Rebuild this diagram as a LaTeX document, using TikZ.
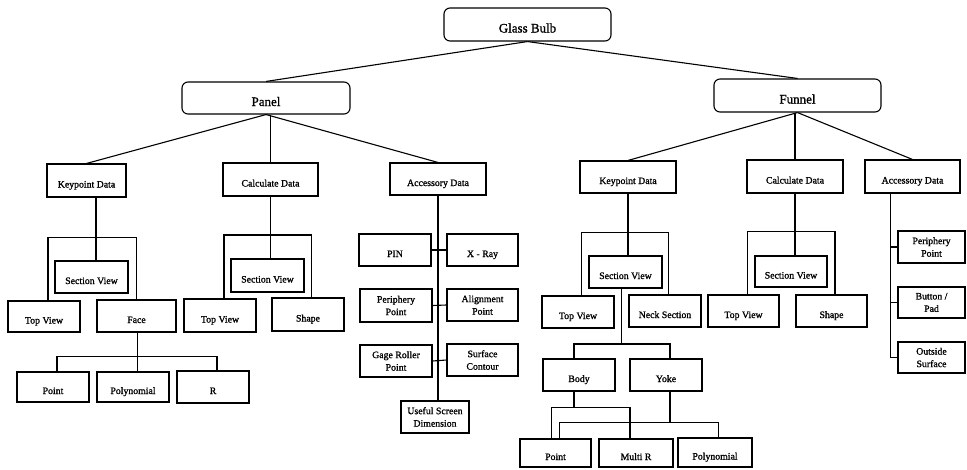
\documentclass[tikz,border=0pt]{standalone}
\usepackage{fontspec}
\setmainfont{Liberation Serif}[FakeBold=1.2]
\tikzset{
  sz/.style 2 args={minimum width=#1pt, minimum height=#2pt},
  box/.style={draw, line width=1.1pt, inner sep=0pt,
    font=\fontsize{9.8}{12}\selectfont, text height=14pt, text depth=0pt},
  box2/.style={draw, line width=1.1pt, inner sep=0pt, align=center,
    font=\fontsize{9.8}{12.5}\selectfont},
  topbox/.style={draw, rounded corners=6pt, line width=1.1pt, inner sep=0pt,
    font=\fontsize{13}{15}\selectfont, text height=16pt, text depth=0pt},
  wire/.style={line width=1.1pt},
}
\begin{document}
\begin{tikzpicture}[x=1pt, y=-1pt]
\useasboundingbox (0,0) rectangle (967,469);

% top levels
\node[topbox, sz={167}{33}] (gb) at (527.5,24.5) {Glass Bulb};
\node[topbox, sz={168}{32}] (panel) at (266,98) {Panel};
\node[topbox, sz={167}{33}] (funnel) at (797.5,95.5) {Funnel};

% panel branch
\node[box, sz={79}{33}] (pkd) at (86.5,180.5) {Keypoint Data};
\node[box, sz={95}{33}] (pcd) at (270.5,179.5) {Calculate Data};
\node[box, sz={96}{32}] (pad) at (438,179) {Accessory Data};
\node[box, sz={73}{32}] (psv) at (91.5,277) {Section View};
\node[box, sz={72}{31}] (ptv) at (44,316.5) {Top View};
\node[box, sz={79}{32}] (pface) at (136.5,316) {Face};
\node[box, sz={72}{30}] (ppoint) at (53,387) {Point};
\node[box, sz={72}{30}] (ppoly) at (133,387) {Polynomial};
\node[box, sz={72}{32}] (pr) at (213,387) {R};
\node[box, sz={73}{33}] (psv2) at (267.5,275.5) {Section View};
\node[box, sz={72}{33}] (ptv2) at (220,315.5) {Top View};
\node[box, sz={72}{33}] (pshape) at (308,314.5) {Shape};
\node[box, sz={72}{32}] (pin) at (395,250) {PIN};
\node[box, sz={71}{32}] (xray) at (482.5,250) {X - Ray};
\node[box2, sz={72}{33}] (ppp) at (396,305.5) {Periphery\\Point};
\node[box2, sz={71}{32}] (apt) at (482.5,305) {Alignment\\Point};
\node[box2, sz={72}{32}] (gage) at (396,361) {Gage Roller\\Point};
\node[box2, sz={71}{32}] (surf) at (482.5,360) {Surface\\Contour};
\node[box2, sz={68}{32}] (usd) at (435,417) {Useful Screen\\Dimension};

% funnel branch
\node[box, sz={96}{32}] (fkd) at (628,177) {Keypoint Data};
\node[box, sz={96}{33}] (fcd) at (795,176.5) {Calculate Data};
\node[box, sz={95}{33}] (fad) at (912.5,176.5) {Accessory Data};
\node[box, sz={73}{32}] (fsv) at (625.5,272) {Section View};
\node[box, sz={72}{32}] (ftv) at (578,312) {Top View};
\node[box, sz={72}{32}] (fneck) at (665,311) {Neck Section};
\node[box, sz={72}{32}] (body) at (579,375) {Body};
\node[box, sz={72}{32}] (yoke) at (666,375) {Yoke};
\node[box, sz={71}{28}] (fpoint) at (555.5,453) {Point};
\node[box, sz={74}{28}] (fmulti) at (636,453) {Multi R};
\node[box, sz={74}{29}] (fpoly) at (715,452.5) {Polynomial};
\node[box, sz={72}{31}] (fsv2) at (791,271.5) {Section View};
\node[box, sz={71}{32}] (ftv2) at (743.5,311) {Top View};
\node[box, sz={71}{32}] (fshape) at (831.5,311) {Shape};
\node[box2, sz={67}{32}] (fpp) at (931.5,247) {Periphery\\Point};
\node[box2, sz={67}{31}] (fbp) at (931.5,302.5) {Button /\\Pad};
\node[box2, sz={67}{31}] (fos) at (931.5,357.5) {Outside\\Surface};

% upper fan-out
\draw[wire] (gb.south) -- (panel.north);
\draw[wire] (gb.south) -- (funnel.north);
\draw[wire] (panel.south) -- (pkd.north);
\draw[wire] (pcd.north |- panel.south) -- (pcd.north);
\draw[wire] (panel.south) -- (pad.north);
\draw[wire] (funnel.south) -- (fkd.north);
\draw[wire] (fcd.north |- funnel.south) -- (fcd.north);
\draw[wire] (funnel.south) -- (fad.north);

% panel / keypoint data
\coordinate (k1) at ([xshift=4.5pt]psv.north);
\draw[wire] (k1 |- pkd.south) -- (k1);
\coordinate (pkdbar) at (0,237.5);
\coordinate (ptvtop) at ([xshift=4pt]ptv.north);
\draw[wire] (ptvtop) -- (ptvtop |- pkdbar) -- (pface.north |- pkdbar) -- (pface.north);
\coordinate (fc) at ([xshift=1pt]pface.south);
\draw[wire] (fc) -- (fc |- ppoly.north);
\coordinate (pfbar) at (0,356.5);
\coordinate (ppt) at ([xshift=4pt]ppoint.north);
\coordinate (prt) at ([xshift=4pt]pr.north);
\draw[wire] (ppt) -- (ppt |- pfbar) -- (prt |- pfbar) -- (prt);

% panel / calculate data
\draw[wire] (pcd.south) -- (pcd.south |- psv2.north);
\coordinate (pcdbar) at (0,235);
\coordinate (ptv2t) at ([xshift=4pt]ptv2.north);
\coordinate (psht) at ([xshift=3.7pt]pshape.north);
\draw[wire] (ptv2t) -- (ptv2t |- pcdbar) -- (psht |- pcdbar) -- (psht);

% panel / accessory data
\draw[wire] (pad.south) -- (pad.south |- usd.north);
\draw[wire] (pin.east) -- (xray.west);
\draw[wire] (ppp.east) -- (apt.west);
\draw[wire] (gage.east) -- (surf.west);

% funnel / keypoint data
\draw[wire] (fkd.south) -- (fkd.south |- fsv.north);
\coordinate (fkdbar) at (0,232.7);
\coordinate (ftvt) at ([xshift=3.7pt]ftv.north);
\coordinate (fnkt) at ([xshift=3.3pt]fneck.north);
\draw[wire] (ftvt) -- (ftvt |- fkdbar) -- (fnkt |- fkdbar) -- (fnkt);
\coordinate (fsvb) at ([xshift=-3.8pt]fsv.south);
\coordinate (fsvbar) at (0,344);
\coordinate (bodyt) at ([xshift=-5pt]body.north);
\coordinate (yoket) at ([xshift=4pt]yoke.north);
\draw[wire] (fsvb) -- (fsvb |- fsvbar);
\draw[wire] (bodyt) -- (bodyt |- fsvbar) -- (yoket |- fsvbar) -- (yoket);
\coordinate (bodyb) at ([xshift=-5pt]body.south);
\coordinate (bodybar) at (0,407.5);
\coordinate (fpt1) at ([xshift=-3.8pt]fpoint.north);
\coordinate (fmt) at ([xshift=-6pt]fmulti.north);
\draw[wire] (bodyb) -- (bodyb |- bodybar);
\draw[wire] (fpt1) -- (fpt1 |- bodybar) -- (fmt |- bodybar) -- (fmt);
\coordinate (yokeb) at ([xshift=4pt]yoke.south);
\coordinate (yokebar) at (0,422.7);
\coordinate (fpt2) at ([xshift=3.8pt]fpoint.north);
\coordinate (fpyt) at ([xshift=3.3pt]fpoly.north);
\draw[wire] (yokeb) -- (yokeb |- yokebar);
\draw[wire] (fpt2) -- (fpt2 |- yokebar) -- (fpyt |- yokebar) -- (fpyt);

% funnel / calculate data
\draw[wire] (fcd.south) -- (fcd.south |- fsv2.north);
\coordinate (fcdbar) at (0,231.7);
\coordinate (ftv2t) at ([xshift=3.8pt]ftv2.north);
\coordinate (fsht) at ([xshift=3.5pt]fshape.north);
\draw[wire] (ftv2t) -- (ftv2t |- fcdbar) -- (fsht |- fcdbar) -- (fsht);

% funnel / accessory data
\coordinate (fadt) at ([xshift=-21.8pt]fad.south);
\draw[wire] (fadt) -- (fadt |- fos.west) -- (fos.west);
\draw[wire] (fadt |- fpp.west) -- (fpp.west);
\draw[wire] (fadt |- fbp.west) -- (fbp.west);
\end{tikzpicture}
\end{document}
